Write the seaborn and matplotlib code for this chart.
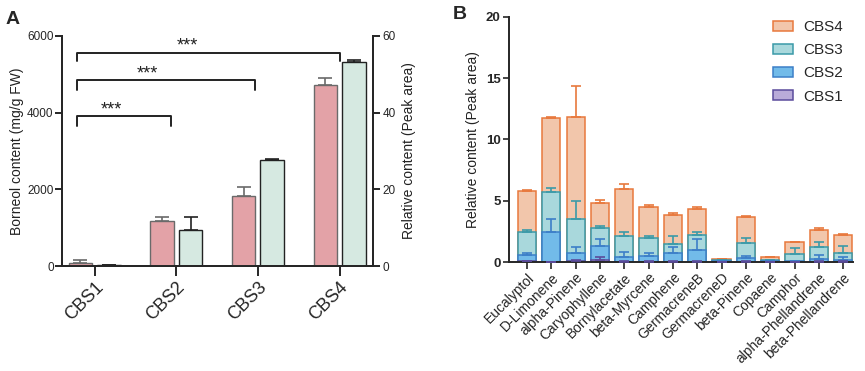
import numpy as np
import pandas as pd
import matplotlib
matplotlib.use("Agg")
import matplotlib.pyplot as plt
from matplotlib.patches import Patch
import seaborn as sns

# ---------------- data: panel A ----------------
groups_a = ["CBS1", "CBS2", "CBS3", "CBS4"]
borneol = [70, 1183, 1826, 4730]
borneol_err = [78, 95, 226, 183]
relative = [0.15, 9.5, 27.6, 53.1]
relative_err = [0.05, 3.3, 0.4, 0.6]

# ---------------- data: panel B ----------------
compounds = ["Eucalyptol", "D-Limonene", "alpha-Pinene", "Caryophyllene",
             "Bornylacetate", "beta-Myrcene", "Camphene", "GermacreneB",
             "GermacreneD", "beta-Pinene", "Copaene", "Camphor",
             "alpha-Phellandrene", "beta-Phellandrene"]
cbs1 = [0.05, 0.02, 0.08, 0.19, 0.03, 0.04, 0.04, 0.03, 0.03, 0.03, 0.03, 0.03, 0.03, 0.03]
cbs2 = [0.52, 2.43, 0.65, 1.11, 0.40, 0.45, 0.67, 0.95, 0.05, 0.32, 0.07, 0.05, 0.24, 0.13]
cbs3 = [1.88, 3.26, 2.77, 1.47, 1.66, 1.44, 0.73, 1.22, 0.07, 1.23, 0.05, 0.54, 0.98, 0.60]
cbs4 = [3.37, 6.03, 8.35, 2.04, 3.83, 2.58, 2.39, 2.15, 0.07, 2.12, 0.23, 0.98, 1.36, 1.44]
cbs1_err = [0.03, 0.02, 0.05, 0.19, 0.03, 0.02, 0.02, 0.02, 0.01, 0.02, 0.01, 0.01, 0.02, 0.02]
cbs2_err = [0.19, 1.05, 0.49, 0.57, 0.39, 0.27, 0.54, 0.92, 0.02, 0.17, 0.02, 0.03, 0.33, 0.27]
cbs3_err = [0.15, 0.29, 1.47, 0.16, 0.36, 0.16, 0.68, 0.22, 0.02, 0.38, 0.02, 0.55, 0.38, 0.52]
cbs4_err = [0.05, 0.08, 2.55, 0.29, 0.44, 0.11, 0.19, 0.13, 0.03, 0.08, 0.05, 0.06, 0.16, 0.06]

sig_pairs = [("CBS1", "CBS2"), ("CBS1", "CBS3"), ("CBS1", "CBS4")]
sig_labels = ["***", "***", "***"]

sns.set_theme(style="ticks")
plt.rcParams["font.family"] = ["Liberation Sans", "DejaVu Sans"]
plt.rcParams["axes.linewidth"] = 1.4

fig = plt.figure(figsize=(8.65, 3.71), dpi=100)

# ================= Panel A =================
axA = fig.add_axes([0.0717, 0.283, 0.3595, 0.620])
axA2 = axA.twinx()

dfA = pd.DataFrame({
    "group": groups_a * 2,
    "series": ["Borneol"] * 4 + ["Relative"] * 4,
    "value": borneol + relative,
})
pink = "#E3A2A7"
green = "#D6E9E1"
sns.barplot(data=dfA[dfA.series == "Borneol"], x="group", y="value", hue="series",
            hue_order=["Borneol", "Relative"], palette=[pink, green], order=groups_a,
            dodge=True, width=0.7, gap=0.0, edgecolor="#6a6a6a", linewidth=1.0,
            legend=False, errorbar=None, ax=axA, saturation=1)
sns.barplot(data=dfA[dfA.series == "Relative"], x="group", y="value", hue="series",
            hue_order=["Borneol", "Relative"], palette=[pink, green], order=groups_a,
            dodge=True, width=0.7, gap=0.0, edgecolor="#222222", linewidth=1.0,
            legend=False, errorbar=None, ax=axA2, saturation=1)

# shrink bars a little and add error bars
for ax, errs, col in [(axA, borneol_err, "#6a6a6a"), (axA2, relative_err, "#222222")]:
    xs, ys = [], []
    for p in ax.patches:
        if p.get_height() == 0 and p.get_width() == 0:
            continue
        w = p.get_width()
        p.set_x(p.get_x() + w * 0.09)
        p.set_width(w * 0.82)
        xs.append(p.get_x() + p.get_width() / 2)
        ys.append(p.get_height())
    order = np.argsort(xs)
    xs = np.array(xs)[order][:4]
    ys = np.array(ys)[order][:4]
    ax.errorbar(xs, ys, yerr=[np.zeros(4), errs], fmt="none", ecolor=col,
                elinewidth=1.2, capsize=5, capthick=1.2, zorder=5)

axA.set_ylim(0, 6000)
axA2.set_ylim(0, 60)
axA.set_xlim(-0.4, 3.41)
axA.set_yticks([0, 2000, 4000, 6000])
axA2.set_yticks([0, 20, 40, 60])
axA.set_xlabel("")
axA.set_ylabel("Borneol content (mg/g FW)", fontsize=10, color="#222222", labelpad=2)
axA2.set_ylabel("Relative content (Peak area)", fontsize=10, color="#222222", labelpad=4)
axA.tick_params(axis="y", labelsize=8.5, width=1.4, length=5, pad=1)
axA2.tick_params(axis="y", labelsize=8.5, width=1.4, length=5, pad=2)
axA.tick_params(axis="x", labelsize=13, width=1.4, length=7, pad=2)
plt.setp(axA.get_xticklabels(), rotation=45, ha="right", rotation_mode="anchor")
for ax in (axA, axA2):
    ax.spines["top"].set_visible(False)
    ax.spines["left"].set_visible(True)
    ax.spines["right"].set_visible(True)
axA.set_zorder(axA2.get_zorder() + 1)
axA.patch.set_visible(False)

# significance brackets
pos = {g: i for i, g in enumerate(groups_a)}
bracket_y = [3900, 4840, 5560]
leg_len = [250, 260, 220]
right_off = [-0.06, -0.03, 0.0]
star_x = [0.2, 0.65, 1.13]
for (a, b), y, ll, ro, sx, lab in zip(sig_pairs, bracket_y, leg_len, right_off, star_x, sig_labels):
    x0 = pos[a] - 0.22
    x1 = pos[b] + ro
    axA.plot([x0, x0, x1, x1], [y - ll, y, y, y - ll], color="#222222", lw=1.4,
             clip_on=False, zorder=6)
    axA.text(sx, y + 60, lab, ha="center", va="baseline", fontsize=13,
             color="#222222", zorder=6)

fig.text(0.006, 0.935, "A", fontsize=14, fontweight="bold")

# ================= Panel B =================
axB = fig.add_axes([0.5884, 0.2938, 0.3977, 0.6604])
segs = [np.array(cbs1), np.array(cbs2), np.array(cbs3), np.array(cbs4)]
errs = [cbs1_err, cbs2_err, cbs3_err, cbs4_err]
cums = np.cumsum(segs, axis=0)
names = ["CBS1", "CBS2", "CBS3", "CBS4"]
fills = ["#B9ABD9", "#72BBE9", "#A9D8DC", "#F2C6AB"]
edges = ["#5B4C9C", "#3C7FC8", "#3B9AA8", "#E8793D"]

for k in [3, 2, 1, 0]:
    sns.barplot(x=compounds, y=cums[k], color=fills[k], edgecolor=edges[k],
                linewidth=1.1, width=0.75, errorbar=None, ax=axB, saturation=1)
xpos = np.arange(len(compounds))
for k in [3, 2, 1, 0]:
    axB.errorbar(xpos, cums[k], yerr=[np.zeros(len(compounds)), errs[k]], fmt="none",
                 ecolor=edges[k], elinewidth=1.2, capsize=3.5, capthick=1.2, zorder=5)

axB.set_ylim(0, 20)
axB.set_yticks([0, 5, 10, 15, 20])
axB.set_xlim(-0.74, 13.4)
axB.set_ylabel("Relative content (Peak area)", fontsize=10, color="#222222", labelpad=4)
axB.set_xlabel("")
axB.tick_params(axis="y", labelsize=9.5, width=1.2, length=4, pad=2)
axB.tick_params(axis="x", labelsize=10, width=1.2, length=5, pad=1)
for t in axB.get_yticklabels():
    t.set_fontweight("bold")
plt.setp(axB.get_xticklabels(), rotation=45, ha="right", rotation_mode="anchor")
sns.despine(ax=axB)

handles = [Patch(facecolor=fills[k], edgecolor=edges[k], linewidth=1.1, label=names[k])
           for k in [3, 2, 1, 0]]
axB.legend(handles=handles, loc="upper left", bbox_to_anchor=(0.76, 1.0), frameon=False,
           fontsize=11, handlelength=1.25, handleheight=0.65, labelspacing=0.6,
           handletextpad=0.7, borderaxespad=0, borderpad=0.2)

fig.text(0.523, 0.948, "B", fontsize=14, fontweight="bold")

fig.savefig("out.png", dpi=100)
